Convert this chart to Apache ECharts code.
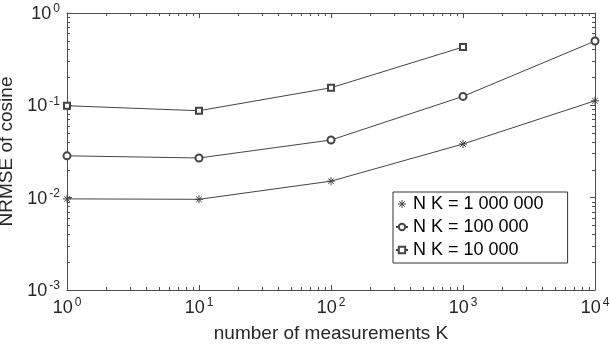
<!DOCTYPE html>
<html>
<head>
<meta charset="utf-8">
<script src="https://cdn.jsdelivr.net/npm/echarts@6/dist/echarts.min.js"></script>
<style>
  html, body { margin: 0; padding: 0; background: #fff; }
  #chart { width: 610px; height: 346px; }
</style>
</head>
<body>
<div id="chart"></div>
<script>
// number of measurements K
var measK = [1, 10, 100, 1000, 10000]
// NRMSE of cosine
var nrmse1e6 = [0.0097, 0.0096, 0.0151, 0.0381, 0.112]
var nrmse1e5 = [0.0284, 0.0269, 0.0421, 0.125, 0.497]
var nrmse1e4 = [0.099, 0.0874, 0.155, 0.428]
var seriesNames = ['N K = 1 000 000', 'N K = 100 000', 'N K = 10 000']

var font = 'Liberation Sans, Arial, Helvetica, sans-serif'
var axisColor = '#4d4d4d'
var textColor = '#262626'
var lineColor = '#444'
var asterisk = 'path://M5,0L5,10M0,5L10,5M1.5,1.5L8.5,8.5M8.5,1.5L1.5,8.5'

function pairs(ys) {
  return ys.map(function (y, i) { return [measK[i], y] })
}

function powLabel(v) {
  return '{b|10}{s|' + Math.round(Math.log10(v)) + '}'
}

var labelRich = {
  b: {fontSize: 18, lineHeight: 20, verticalAlign: 'bottom', color: textColor, fontFamily: font},
  s: {fontSize: 12, lineHeight: 12, verticalAlign: 'top', color: textColor, fontFamily: font, padding: [0, 0, 0, 2]}
}

function logAxis(pos, min, max, showLabel) {
  return {
    type: 'log',
    position: pos,
    min: min,
    max: max,
    axisLine: {show: true, onZero: false, lineStyle: {color: axisColor}},
    axisTick: {show: true, inside: true, length: 5, lineStyle: {color: axisColor}},
    minorTick: {show: true, splitNumber: 9, length: 3, lineStyle: {color: axisColor}},
    splitLine: {show: false},
    axisLabel: {show: showLabel, formatter: powLabel, rich: labelRich}
  }
}

var xBottom = logAxis('bottom', 1, 10000, true)
xBottom.name = 'number of measurements K'
xBottom.nameLocation = 'middle'
xBottom.nameGap = 34
xBottom.nameTextStyle = {fontSize: 19, color: textColor, fontFamily: font}
xBottom.axisLabel.margin = 7

var yLeft = logAxis('left', 0.001, 1, true)
yLeft.name = 'NRMSE of cosine'
yLeft.nameLocation = 'middle'
yLeft.nameGap = 48
yLeft.nameTextStyle = {fontSize: 19, color: textColor, fontFamily: font}
yLeft.axisLabel.margin = 7

var chart = echarts.init(document.getElementById('chart'))

chart.setOption({
  animation: false,
  backgroundColor: '#fff',
  grid: {left: 67, right: 15, top: 13, bottom: 56, outerBoundsMode: 'none'},
  legend: {
    orient: 'vertical',
    left: 393,
    top: 192,
    padding: [3, 24, 4, 2],
    itemGap: 5,
    itemWidth: 12,
    itemHeight: 8,
    borderColor: '#333',
    borderWidth: 1,
    backgroundColor: '#fff',
    textStyle: {fontSize: 18, lineHeight: 18, color: '#000', fontFamily: font},
    data: [
      {name: seriesNames[0], icon: asterisk, itemStyle: {color: '#fff', borderColor: lineColor, borderWidth: 1}},
      seriesNames[1],
      seriesNames[2]
    ]
  },
  xAxis: [xBottom, logAxis('top', 1, 10000, false)],
  yAxis: [yLeft, logAxis('right', 0.001, 1, false)],
  series: [
    {name: seriesNames[0], type: 'line', clip: false,
      symbol: asterisk, symbolSize: 8, data: pairs(nrmse1e6),
      itemStyle: {color: lineColor, borderColor: lineColor, borderWidth: 1},
      lineStyle: {color: lineColor, width: 1}},
    {name: seriesNames[1], type: 'line', clip: false,
      symbol: 'emptyCircle', symbolSize: 7, data: pairs(nrmse1e5),
      itemStyle: {color: lineColor, borderWidth: 1},
      lineStyle: {color: lineColor, width: 1}},
    {name: seriesNames[2], type: 'line', clip: false,
      symbol: 'emptyRect', symbolSize: 6, data: pairs(nrmse1e4),
      itemStyle: {color: lineColor, borderWidth: 1},
      lineStyle: {color: lineColor, width: 1}}
  ]
})
</script>
</body>
</html>
